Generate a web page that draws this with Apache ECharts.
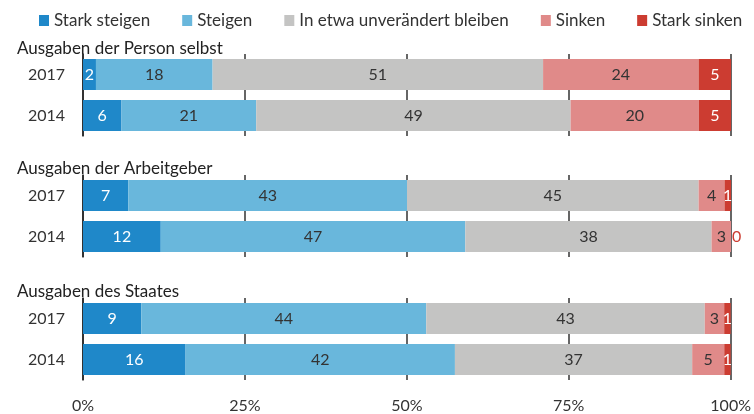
<!DOCTYPE html>
<html>
<head>
<meta charset="utf-8">
<script src="https://cdn.jsdelivr.net/npm/echarts@6/dist/echarts.min.js"></script>
<style>
  html, body { margin: 0; padding: 0; background: #fff; }
  #main { width: 754px; height: 414px; }
</style>
</head>
<body>
<div id="main"></div>
<script>
var myChart = echarts.init(document.getElementById('main'));

var years = ['2017', '2014'];
var groupTitles = ['Ausgaben der Person selbst', 'Ausgaben der Arbeitgeber', 'Ausgaben des Staates'];
var seriesNames = ['Stark steigen', 'Steigen', 'In etwa unverändert bleiben', 'Sinken', 'Stark sinken'];
var colors = ['#1f88c9', '#69b7dc', '#c4c4c3', '#e08a89', '#cc3c31'];
var labelColors = ['#fff', '#333', '#333', '#333', '#fff'];

// values per group: [2017, 2014] for each answer (rounded percentages)
var person = [[2, 6], [18, 21], [51, 49], [24, 20], [5, 5]];
var arbeitgeber = [[7, 12], [43, 47], [45, 38], [4, 3], [1, 0]];
var staat = [[9, 16], [44, 42], [43, 37], [3, 5], [1, 1]];
var groups = [person, arbeitgeber, staat];

var font = 'Lato, "Open Sans", sans-serif';
var gridTops = [54, 175, 298];
var titleTops = [35, 155, 278];

var grids = [], xAxes = [], yAxes = [], series = [], titles = [];
groups.forEach(function (g, gi) {
    // row sums, so that rounded rows that add up to 101 still fill 100%
    var sums = years.map(function (y, yi) {
        return g.reduce(function (s, vals) { return s + vals[yi]; }, 0);
    });
    grids.push({ left: 83, right: 23, top: gridTops[gi], height: 82 });
    titles.push({
        text: groupTitles[gi], left: 12, top: titleTops[gi],
        textStyle: { fontFamily: font, fontSize: 17, fontWeight: 'normal', color: '#222' }
    });
    xAxes.push({
        type: 'value', gridIndex: gi, min: 0, max: 100, interval: 25,
        axisLine: { show: false }, axisTick: { show: false },
        axisLabel: {
            show: gi === 2, formatter: '{value}%', margin: 18,
            fontFamily: font, fontSize: 16, color: '#333'
        },
        splitLine: { show: true, lineStyle: { color: '#666', width: 2 } }
    });
    yAxes.push({
        type: 'category', gridIndex: gi, data: years, inverse: true,
        axisLine: { show: true, lineStyle: { color: '#222', width: 1.5 } },
        axisTick: { show: false },
        axisLabel: { fontFamily: font, fontSize: 16, color: '#333', margin: 18 }
    });
    g.forEach(function (vals, si) {
        series.push({
            name: seriesNames[si], type: 'bar', stack: 'g' + gi,
            xAxisIndex: gi, yAxisIndex: gi, barWidth: 31,
            itemStyle: { color: colors[si] },
            label: {
                show: true, position: 'inside', fontFamily: font, fontSize: 16,
                color: labelColors[si],
                formatter: function (p) { return p.data.raw; }
            },
            data: vals.map(function (v, yi) {
                var item = { value: v / sums[yi] * 100, raw: v };
                if (v === 0) {
                    item.label = { position: 'right', distance: 1, color: colors[si] };
                }
                return item;
            })
        });
    });
});

var option = {
    animation: false,
    title: titles,
    legend: {
        data: seriesNames, left: 34, top: 7,
        icon: 'rect', itemWidth: 10, itemHeight: 11, itemGap: 32,
        textStyle: { fontFamily: font, fontSize: 17, color: '#333' }
    },
    grid: grids,
    xAxis: xAxes,
    yAxis: yAxes,
    series: series
};

myChart.setOption(option);
</script>
</body>
</html>
